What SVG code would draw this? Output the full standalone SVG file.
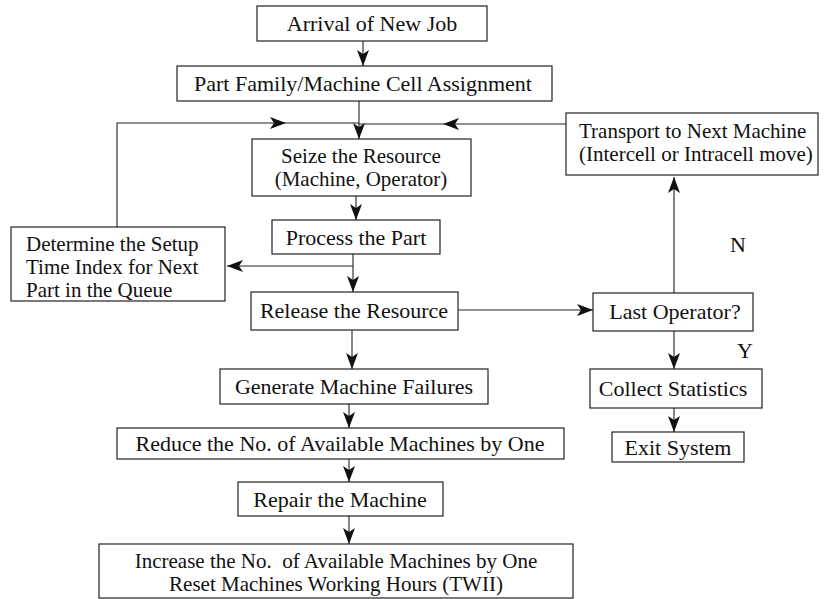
<svg xmlns="http://www.w3.org/2000/svg" width="829" height="599" viewBox="0 0 829 599">
<style>
.box{fill:#fff;stroke:#222;stroke-width:1.2}
.t{font-family:"Liberation Serif","Times New Roman",serif;font-size:22px;fill:#111;white-space:pre}
.m{font-size:21px}
.c{text-anchor:middle}
.ln{fill:none;stroke:#222;stroke-width:1.1}
.ar{fill:none;stroke:#222;stroke-width:1.1;marker-end:url(#ah)}
</style>
<defs>
<marker id="ah" markerUnits="userSpaceOnUse" markerWidth="16" markerHeight="12" refX="16" refY="6" orient="auto">
<path d="M0,0 L16,6 L0,12 L4,6 z" fill="#111"/>
</marker>
</defs>
<rect width="829" height="599" fill="#fff"/>
<g id="connectors">
<path class="ar" d="M363,41 V66"/>
<path class="ar" d="M359,101 V139"/>
<path class="ar" d="M117,227 V123 H286"/>
<path class="ln" d="M286,123 H359"/>
<path class="ar" d="M566,124 H443"/>
<path class="ln" d="M443,124 H359"/>
<path class="ar" d="M356,196 V220"/>
<path class="ar" d="M353,254 V292"/>
<path class="ar" d="M353,266 H227"/>
<path class="ar" d="M352,330 V369"/>
<path class="ar" d="M458,310 H593"/>
<path class="ar" d="M674,293 V177"/>
<path class="ar" d="M674,331 V369"/>
<path class="ar" d="M674,408 V432"/>
<path class="ar" d="M349,404 V428"/>
<path class="ar" d="M349,459 V482"/>
<path class="ar" d="M349,516 V544"/>
</g>
<g id="arrival"><rect class="box" x="257" y="6" width="230" height="35"/><text class="t c" x="372" y="31">Arrival of New Job</text></g>
<g id="partfamily"><rect class="box" x="177" y="66" width="375" height="35"/><text class="t c" x="363" y="91">Part Family/Machine Cell Assignment</text></g>
<g id="seize"><rect class="box" x="252" y="139" width="219" height="57"/><text class="t m c" x="361" y="163">Seize the Resource</text><text class="t m c" x="361" y="186">(Machine, Operator)</text></g>
<g id="transport"><rect class="box" x="566" y="113" width="252" height="62"/><text class="t m" x="579" y="138">Transport to Next Machine</text><text class="t m" x="579" y="161">(Intercell or Intracell move)</text></g>
<g id="process"><rect class="box" x="272" y="220" width="168" height="34"/><text class="t c" x="356" y="245">Process the Part</text></g>
<g id="determine"><rect class="box" x="11" y="227" width="214" height="74"/><text class="t m" x="26" y="251">Determine the Setup</text><text class="t m" x="26" y="274">Time Index for Next</text><text class="t m" x="26" y="297">Part in the Queue</text></g>
<g id="release"><rect class="box" x="251" y="292" width="207" height="38"/><text class="t c" x="354" y="318">Release the Resource</text></g>
<g id="lastop"><rect class="box" x="593" y="293" width="160" height="38"/><text class="t c" x="675" y="319">Last Operator?</text></g>
<g id="labelN"><text class="t c" x="738" y="252">N</text></g>
<g id="labelY"><text class="t c" x="745" y="358">Y</text></g>
<g id="collect"><rect class="box" x="590" y="369" width="172" height="39"/><text class="t c" x="673" y="396">Collect Statistics</text></g>
<g id="exit"><rect class="box" x="612" y="432" width="132" height="30"/><text class="t c" x="678" y="455">Exit System</text></g>
<g id="generate"><rect class="box" x="220" y="369" width="268" height="35"/><text class="t c" x="354" y="394">Generate Machine Failures</text></g>
<g id="reduce"><rect class="box" x="117" y="428" width="447" height="31"/><text class="t c" x="340" y="451">Reduce the No. of Available Machines by One</text></g>
<g id="repair"><rect class="box" x="238" y="482" width="205" height="34"/><text class="t c" x="340" y="507">Repair the Machine</text></g>
<g id="increase"><rect class="box" x="99" y="544" width="474" height="54"/><text class="t m c" x="336" y="568">Increase the No.  of Available Machines by One</text><text class="t m c" x="336" y="591">Reset Machines Working Hours (TWII)</text></g>
</svg>
